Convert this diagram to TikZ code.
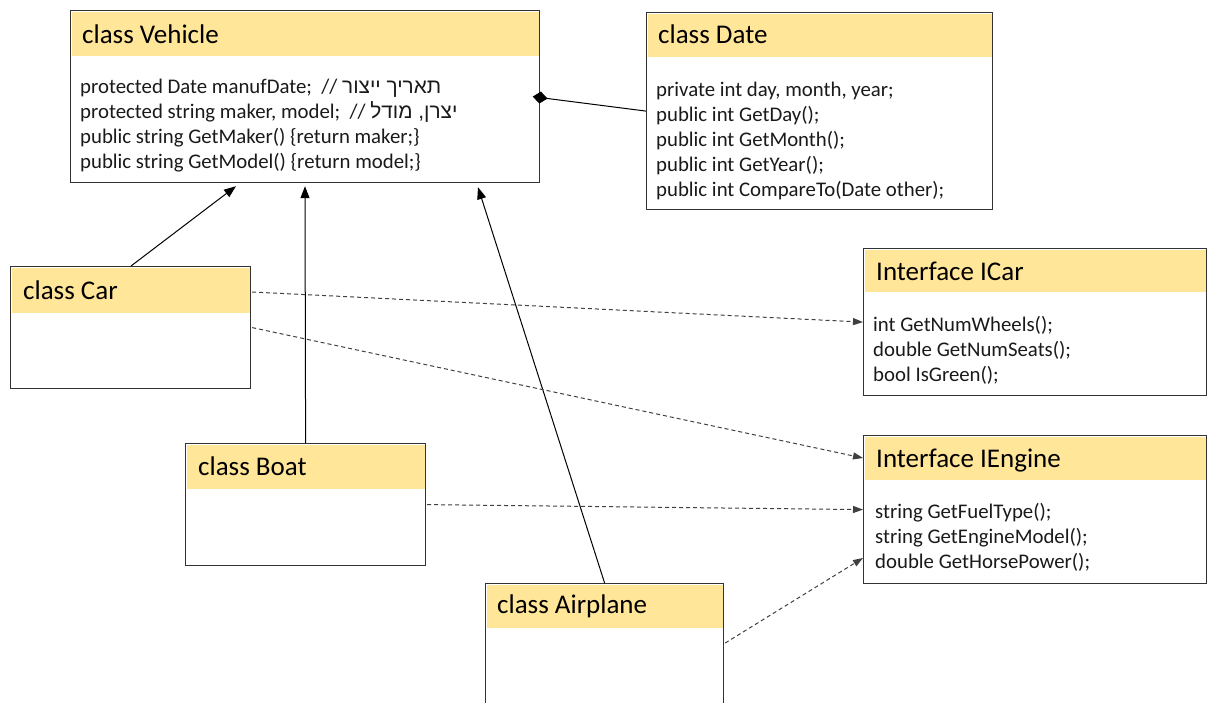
\documentclass[tikz,border=0pt]{standalone}
\usepackage{fontspec}
\setmainfont{Carlito}
\newfontfamily\hebfont[Script=Hebrew]{Liberation Sans}
\TeXXeTstate=1
\usetikzlibrary{arrows.meta,calc}

\definecolor{hdr}{HTML}{FFE699}
\definecolor{ink}{HTML}{1A1A1A}
\definecolor{edge}{HTML}{333333}
\definecolor{dashink}{HTML}{404040}

\tikzset{
  classbox/.style={draw=edge, line width=1.2pt, fill=white, rectangle,
    inner sep=0pt, anchor=north west},
  titletext/.style={anchor=base west, inner sep=0pt,
    font=\fontsize{27}{32}\selectfont, text=black},
  membertext/.style={anchor=base west, inner sep=0pt,
    font=\fontsize{20.8}{25}\selectfont, text=ink},
  inherit/.style={draw=black, line width=1pt,
    -{Triangle[length=12pt,width=9pt]}},
  realize/.style={draw=dashink, line width=1pt, dash pattern=on 4pt off 3pt,
    -{Triangle[length=10pt,width=7pt]}},
  composite/.style={draw=black, line width=1pt,
    {Diamond[length=15pt,width=12pt]}-}
}

\begin{document}
\begin{tikzpicture}[x=1pt,y=-1pt]
\path[use as bounding box] (0,0) rectangle (1208,702);
\clip (0,0) rectangle (1208,702);
\fill[white] (0,0) rectangle (1208,702);

% class boxes
\node[classbox, minimum width=469pt, minimum height=172pt] (veh) at (70,10) {};
\node[classbox, minimum width=346pt, minimum height=197pt] (date) at (646,12) {};
\node[classbox, minimum width=343pt, minimum height=147pt] (icar) at (863,248) {};
\node[classbox, minimum width=343pt, minimum height=148pt] (ieng) at (863,435) {};
\node[classbox, minimum width=240pt, minimum height=122pt] (car) at (10,266) {};
\node[classbox, minimum width=240pt, minimum height=122pt] (boat) at (185,443) {};
\node[classbox, minimum width=238pt, minimum height=160pt] (air) at (485,583) {};

% header bands
\fill[hdr] ($(veh.north west)+(1.5,1.5)$) rectangle ($(veh.north east)+(-1.5,46)$);
\fill[hdr] ($(date.north west)+(1.5,1.5)$) rectangle ($(date.north east)+(-1.5,45)$);
\fill[hdr] ($(icar.north west)+(1.5,1.5)$) rectangle ($(icar.north east)+(-1.5,44)$);
\fill[hdr] ($(ieng.north west)+(1.5,1.5)$) rectangle ($(ieng.north east)+(-1.5,45)$);
\fill[hdr] ($(car.north west)+(1.5,1.5)$) rectangle ($(car.north east)+(-1.5,47)$);
\fill[hdr] ($(boat.north west)+(1.5,1.5)$) rectangle ($(boat.north east)+(-1.5,46)$);
\fill[hdr] ($(air.north west)+(1.5,1.5)$) rectangle ($(air.north east)+(-1.5,45)$);

% titles
\node[titletext] (vehT) at (82,43) {class Vehicle};
\node[titletext] (dateT) at (658,43) {class Date};
\node[titletext] (icarT) at (876,280) {Interface ICar};
\node[titletext] (iengT) at (876,467) {Interface IEngine};
\node[titletext] (carT) at (23,299) {class Car};
\node[titletext] (boatT) at (198,475) {class Boat};
\node[titletext] (airT) at (497,613) {class Airplane};

% members of Vehicle
\node[membertext] (veh1) at (80,93.5) {protected Date manufDate;\ \ //\ {\hebfont\beginR תאריך ייצור\endR}};
\node[membertext] (veh2) at (80,118.5) {protected string maker, model;\ \ //\ {\hebfont\beginR יצרן, מודל\endR}};
\node[membertext] (veh3) at (80,143.5) {public string GetMaker() \{return maker;\}};
\node[membertext] (veh4) at (80,168) {public string GetModel() \{return model;\}};

% members of Date
\node[membertext] (date1) at (656,96) {private int day, month, year;};
\node[membertext] (date2) at (656,121) {public int GetDay();};
\node[membertext] (date3) at (656,146) {public int GetMonth();};
\node[membertext] (date4) at (656,171) {public int GetYear();};
\node[membertext] (date5) at (656,196) {public int CompareTo(Date other);};

% members of ICar
\node[membertext] (icar1) at (873,331) {int GetNumWheels();};
\node[membertext] (icar2) at (873,356) {double GetNumSeats();};
\node[membertext] (icar3) at (873,381) {bool IsGreen();};

% members of IEngine
\node[membertext] (ieng1) at (875,518) {string GetFuelType();};
\node[membertext] (ieng2) at (875,543) {string GetEngineModel();};
\node[membertext] (ieng3) at (875,568) {double GetHorsePower();};

% inheritance
\draw[inherit] ($(car.north west)+(121,0)$) -- ($(veh.south west)+(166,3)$);
\draw[inherit] (boat.north) -- ($(veh.south west)+(235,3)$);
\draw[inherit] (air.north) -- ($(veh.south west)+(408,4)$);

% composition
\draw[composite] ($(veh.east)+(-7.5,0)$) -- (date.west);

% interface realization
\draw[realize] ($(car.north east)+(1,26)$) -- (icar.west);
\draw[realize] ($(car.east)+(1,0)$) -- ($(ieng.north west)+(0,23)$);
\draw[realize] ($(boat.east)+(1,0)$) -- (ieng.west);
\draw[realize] ($(air.north east)+(1,60)$) -- ($(ieng.north west)+(0,123)$);
\end{tikzpicture}
\end{document}
